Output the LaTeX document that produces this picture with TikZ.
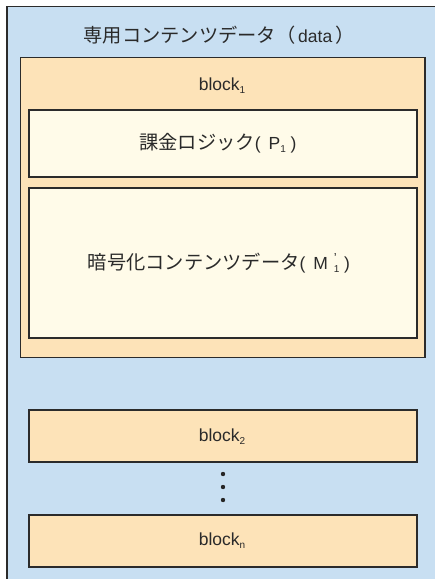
\documentclass[tikz,border=0pt]{standalone}
\usepackage{fontspec}
\setmainfont{Liberation Sans}
\newfontfamily\jp[Scale=1.1]{Noto Sans CJK JP}
\definecolor{outerblue}{HTML}{C8DFF2}
\definecolor{blockorange}{HTML}{FDE3B8}
\definecolor{innercream}{HTML}{FFFBE9}
\definecolor{edgegray}{HTML}{2B2B2B}
\definecolor{textgray}{HTML}{2A2A2A}
\newcommand{\smallidx}[1]{\raisebox{-0.35ex}{\fontsize{10}{10}\selectfont #1}}
\begin{document}
\begin{tikzpicture}[x=1pt,y=-1pt,
  boxbase/.style={draw=edgegray, line width=1.1pt},
  shadowed/.style={preaction={fill=black!45, transform canvas={xshift=0.9pt,yshift=-0.9pt}}},
  outerbox/.style={boxbase, fill=outerblue},
  blockbox/.style={boxbase, fill=blockorange, shadowed},
  innerbox/.style={boxbase, fill=innercream, shadowed},
  lbl/.style={text=textgray, font=\fontsize{17.5}{20}\selectfont, inner sep=0pt},
  dotmark/.style={circle, fill=black!85, inner sep=0pt, minimum size=4.4pt}
]
\useasboundingbox (0,0) rectangle (435,579);
\clip (0,0) rectangle (435,579);
\fill[white] (0,0) rectangle (435,579);
\path[outerbox] (7,6.5) rectangle (445,590);
\path[blockbox] (20.5,57.5) rectangle (425,357.5);
\path[innerbox] (29,110) rectangle (417,177);
\path[innerbox] (29,188) rectangle (417,338);
\path[blockbox] (29,410) rectangle (417,462);
\path[blockbox] (29,515) rectangle (417,567);
\node[lbl] (title) at (219,35) {{\jp 専用コンテンツデータ（}\,data\,{\jp ）}};
\node[lbl] (b1) at (222,86) {block\smallidx{1}};
\node[lbl] (p1) at (218,143) {{\jp 課金ロジック}(\, P\smallidx{1} )};
\node[lbl] (m1) at (219,263) {{\jp 暗号化コンテンツデータ}(\, M\,\,\rlap{\raisebox{0.75ex}{\fontsize{13}{13}\selectfont ’}}\smallidx{1} )};
\node[lbl] (b2) at (222,437) {block\smallidx{2}};
\node[lbl] (bn) at (222,541) {block\smallidx{n}};
\node[dotmark] (d1) at (223,474) {};
\node[dotmark] (d2) at (223,487) {};
\node[dotmark] (d3) at (223,500) {};
\end{tikzpicture}
\end{document}
